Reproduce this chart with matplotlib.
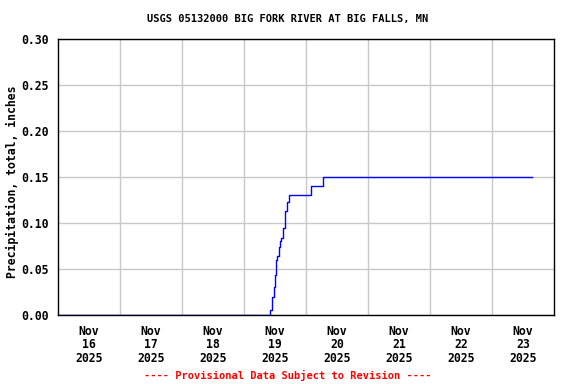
import numpy as np
import pandas as pd
import matplotlib
matplotlib.use('Agg')
import matplotlib.pyplot as plt
import matplotlib.dates as mdates

# %% data
times = ['2025-11-16 00:00', '2025-11-19 10:00', '2025-11-19 10:45', '2025-11-19 11:00',
         '2025-11-19 11:45', '2025-11-19 12:00', '2025-11-19 12:30', '2025-11-19 12:45',
         '2025-11-19 13:30', '2025-11-19 13:45', '2025-11-19 14:30', '2025-11-19 15:00',
         '2025-11-19 15:15', '2025-11-19 15:45', '2025-11-19 16:00', '2025-11-19 16:30',
         '2025-11-19 17:15', '2025-11-20 01:45', '2025-11-20 02:00', '2025-11-20 06:30',
         '2025-11-23 15:30']
precip = [0.000, 0.005, 0.010, 0.020,
          0.030, 0.044, 0.060, 0.064,
          0.074, 0.080, 0.084, 0.089,
          0.095, 0.100, 0.113, 0.123,
          0.130, 0.133, 0.140, 0.150,
          0.150]
title = 'USGS 05132000 BIG FORK RIVER AT BIG FALLS, MN'
ylabel = 'Precipitation, total, inches'
footer = '---- Provisional Data Subject to Revision ----'

t = pd.to_datetime(times)

# %% plot
plt.rcParams['font.family'] = 'DejaVu Sans Mono'
plt.rcParams['font.weight'] = 'bold'
plt.rcParams['font.size'] = 8.3

fig = plt.figure(figsize=(5.76, 3.84), dpi=100)
ax = fig.add_axes([58 / 576, 69 / 384, 496 / 576, 276 / 384])

ax.plot(t, precip, color='blue', lw=1, drawstyle='steps-post', zorder=3)

ax.set_xlim(pd.Timestamp('2025-11-16'), pd.Timestamp('2025-11-24'))
ax.set_ylim(0, 0.30)
ax.set_yticks(np.arange(0, 0.301, 0.05))
ax.yaxis.set_major_formatter(plt.FormatStrFormatter('%.2f'))

ax.xaxis.set_major_locator(mdates.DayLocator(bymonthday=range(17, 24)))
ax.xaxis.set_major_formatter(plt.NullFormatter())
ax.xaxis.set_minor_locator(mdates.HourLocator(byhour=12))
ax.xaxis.set_minor_formatter(mdates.DateFormatter('%b\n%d\n%Y'))
ax.tick_params(axis='x', which='both', length=0, pad=7)
ax.tick_params(axis='y', length=0, pad=7)
for lbl in ax.get_xticklabels(minor=True):
    lbl.set_linespacing(1.05)

ax.grid(True, which='major', color='#c8c8c8', lw=1)
for s in ax.spines.values():
    s.set_color('black')
    s.set_linewidth(1)

fig.text(12 / 576, 1 - 182 / 384, ylabel, rotation=90, ha='center', va='center')
fig.text(288 / 576, 1 - 19 / 384, title, ha='center', va='center', fontsize=7.5)
fig.text(288 / 576, 1 - 375 / 384, footer, ha='center', va='center', color='red',
         fontsize=7.5)

fig.savefig('out.png', dpi=100)
